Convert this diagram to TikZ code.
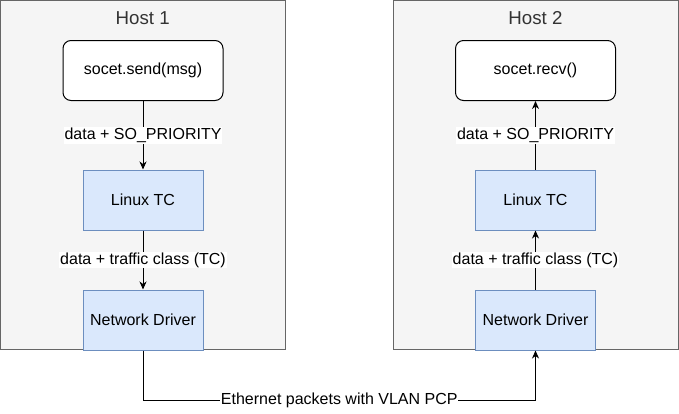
\documentclass[tikz,border=0pt]{standalone}
\usepackage{fontspec}
\setmainfont{Liberation Sans}
\usetikzlibrary{arrows.meta}
\definecolor{hostfill}{HTML}{F5F5F5}
\definecolor{hostline}{HTML}{666666}
\definecolor{bluefill}{HTML}{DAE8FC}
\definecolor{blueline}{HTML}{6C8EBF}
\definecolor{titletext}{HTML}{333333}
\begin{document}
\begin{tikzpicture}[x=1pt,y=-1pt,
  host/.style={draw=hostline,fill=hostfill,line width=1pt,minimum width=285pt,minimum height=349pt,inner sep=0pt},
  hosttitle/.style={text=titletext,font=\fontsize{18.7}{22}\selectfont,inner sep=0pt},
  appbox/.style={draw=black,fill=white,rounded corners=8pt,line width=1pt,minimum width=160pt,minimum height=60pt,font=\fontsize{16}{19}\selectfont},
  bluebox/.style={draw=blueline,fill=bluefill,line width=1pt,minimum width=120pt,minimum height=60pt,font=\fontsize{16}{19}\selectfont},
  lbl/.style={fill=white,inner sep=1pt,font=\fontsize{16}{19}\selectfont},
  conn/.style={draw=black,line width=1pt,-{Stealth[length=8pt,width=7pt,inset=2.5pt]}},
  plain/.style={draw=black,line width=1pt}]
\useasboundingbox (0,0) rectangle (679,413);
\fill[white] (0,0) rectangle (679,413);
% hosts
\node[host] (h1) at (142.75,175) {};
\node[host] (h2) at (535.5,175) {};
\node[hosttitle] (t1) at (142.75,18) {Host 1};
\node[hosttitle] (t2) at (535.5,18) {Host 2};
% host 1
\node[appbox] (send) at (143,70.5) {socet.send(msg)};
\node[bluebox] (tc1) at (143,200) {Linux TC};
\node[bluebox] (nd1) at (143,320) {Network Driver};
% host 2
\node[appbox] (recv) at (535.5,70.5) {socet.recv()};
\node[bluebox] (tc2) at (535.5,200) {Linux TC};
\node[bluebox] (nd2) at (535.5,320) {Network Driver};
% connectors host 1
\draw[conn] (send) -- node[lbl] (l1) {data + SO\_PRIORITY} (tc1);
\draw[conn] (tc1) -- node[lbl] (l2) {data + traffic class (TC)} (nd1);
% connectors host 2
\draw[conn] (tc2) -- node[lbl] (l3) {data + SO\_PRIORITY} (recv);
\draw[conn] (nd2) -- node[lbl] (l4) {data + traffic class (TC)} (tc2);
% ethernet link
\coordinate (c1) at (143,400);
\coordinate (c2) at (535.5,400);
\draw[conn] (nd1.south) -- (c1) -- node[lbl,inner sep=0.5pt] (l5) {Ethernet packets with VLAN PCP} (c2) -- (nd2.south);
\end{tikzpicture}
\end{document}
